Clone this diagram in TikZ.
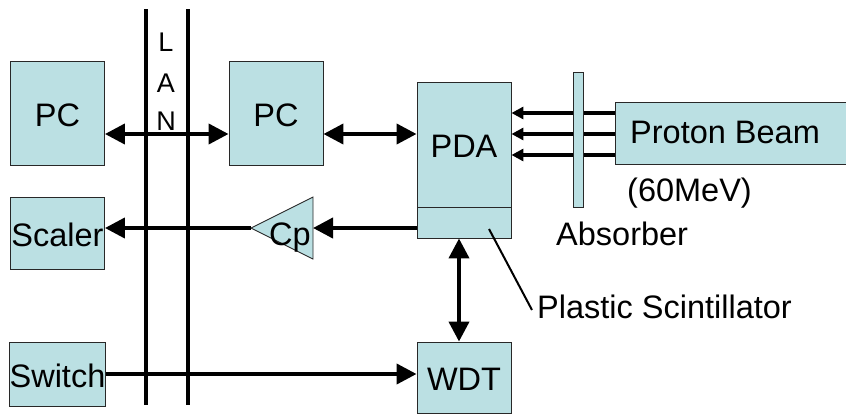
\documentclass[tikz,border=0pt]{standalone}
\usepackage{fontspec}
\setmainfont{Liberation Sans}
\usetikzlibrary{arrows.meta,calc}
\definecolor{boxblue}{RGB}{187,224,227}
\definecolor{edgec}{RGB}{40,40,40}
\begin{document}
\begin{tikzpicture}[x=1pt,y=-1pt,
  box/.style={draw=edgec, line width=0.9pt, fill=boxblue, inner sep=0pt, text height=26pt, text depth=0pt, font=\fontsize{32.5}{38}\selectfont},
  lbl/.style={inner sep=0pt, anchor=base west, font=\fontsize{32.5}{38}\selectfont},
  bus/.style={line width=4pt},
  conn/.style={line width=4pt, -{Triangle[length=20pt,width=20pt]}},
  dconn/.style={line width=4pt, {Triangle[length=20pt,width=20pt]}-{Triangle[length=20pt,width=20pt]}},
  beamarr/.style={line width=3.5pt, -{Triangle[length=12pt,width=12pt]}},
  lanl/.style={inner sep=0pt, anchor=base, font=\fontsize{27}{30}\selectfont}]

\useasboundingbox (0,0) rectangle (846,413);

% LAN bus
\coordinate (lanAtop) at (146,9);
\coordinate (lanAbot) at (146,405);
\coordinate (lanBtop) at (188,9);
\coordinate (lanBbot) at (188,405);
\draw[bus] (lanAtop) -- (lanAbot);
\draw[bus] (lanBtop) -- (lanBbot);
\node[lanl] (lanL) at (166,51) {L};
\node[lanl] (lanA) at (166,92) {A};
\node[lanl] (lanN) at (166,130) {N};

% boxes
\node[box, minimum width=94pt, minimum height=104pt] (pc1) at (57.5,113) {PC};
\node[box, minimum width=94pt, minimum height=104pt] (pc2) at (276,113) {PC};
\node[box, minimum width=94pt, minimum height=125pt] (pda) at (464,144.5) {PDA};
\node[box, minimum width=94pt, minimum height=31pt] (scint) at (464,222.5) {};
\node[box, minimum width=260pt, minimum height=62pt] (beam) at (745,133) {};
\node[lbl] (beamtxt) at (630,143) {Proton Beam};
\node[box, minimum width=94pt, minimum height=72pt] (scaler) at (57.5,233) {Scaler};
\node[box, minimum width=94pt, minimum height=64pt] (switch) at (57.5,374) {Switch};
\node[box, minimum width=94pt, minimum height=71pt] (wdt) at (464,377.5) {WDT};

% beam arrows (under the absorber)
\foreach \yy in {113,134,155}
  \draw[beamarr] (beam.west |- 0,\yy) -- (pda.east |- 0,\yy);
\node[box, minimum width=10pt, minimum height=135pt] (abs) at (578,139.5) {};

\node[lbl] (mev) at (627,201) {(60MeV)};
\node[lbl] (absorber) at (556,245) {Absorber};
\node[lbl] (plastic) at (537,318) {Plastic Scintillator};

% comparator
\coordinate (cptip) at (251,228);
\coordinate (cpbase) at (313,228);
\draw[draw=edgec, line width=0.9pt, fill=boxblue] (cptip) -- (313,197) -- (313,259) -- cycle;
\node[lbl] (cp) at (269,245) {Cp};

% connectors
\coordinate (yrow) at (0,134);
\draw[dconn] (pc1.east |- yrow) -- (pc2.west |- yrow);
\draw[dconn] (pc2.east |- yrow) -- (pda.west |- yrow);
\draw[conn] (scint.west |- cpbase) -- (cpbase);
\draw[conn] (cptip) -- (scaler.east |- cptip);
\draw[conn] (switch.east) -- (wdt.west |- switch.east);
\coordinate (vx) at (459,0);
\draw[dconn] (scint.south -| vx) -- (wdt.north -| vx);
\coordinate (leadA) at (489,229);
\coordinate (leadB) at (532,310);
\draw[line width=2pt] (leadA) -- (leadB);
\end{tikzpicture}
\end{document}
